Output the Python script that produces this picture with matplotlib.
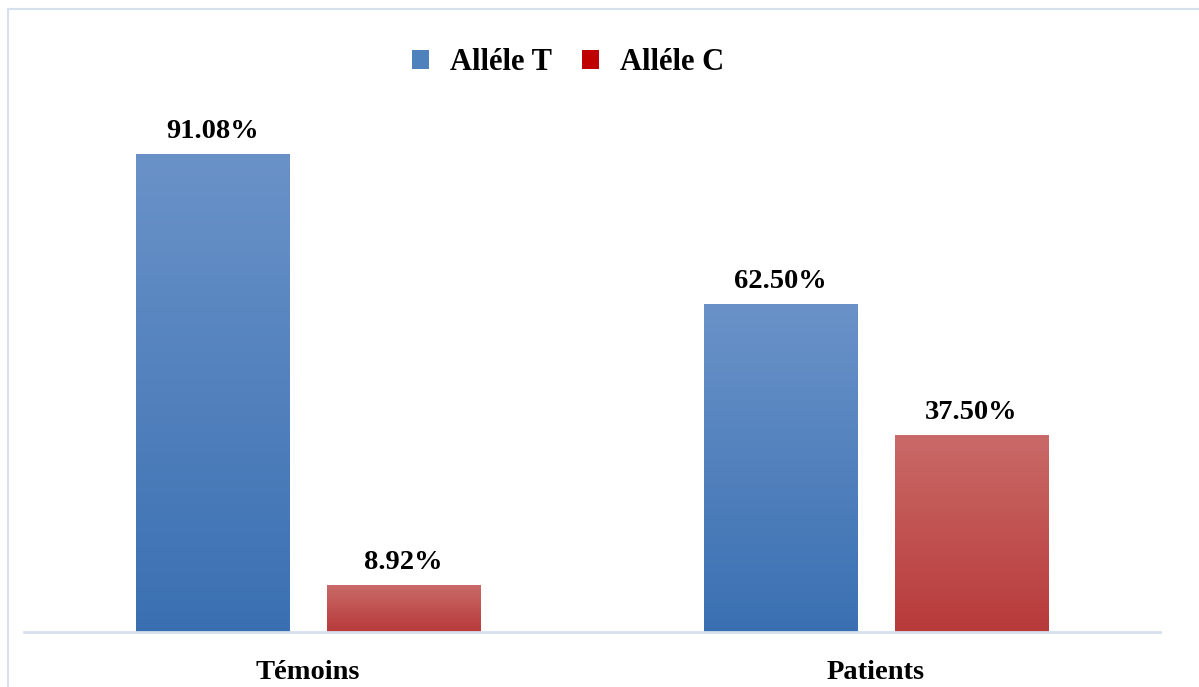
import numpy as np
import matplotlib.pyplot as plt
from matplotlib.patches import Patch, Rectangle
from matplotlib.colors import to_rgb

groups = ["Témoins", "Patients"]
series = ["Alléle T", "Alléle C"]
allele_t = [91.08, 62.50]
allele_c = [8.92, 37.50]

legend_colors = ["#4F81BD", "#C00000"]
# top / bottom shades for the vertical gradient of each series
grad_colors = [("#6A92C8", "#3A70B2"), ("#C96A68", "#B83A3A")]

plt.rcParams["font.family"] = ["Liberation Serif", "DejaVu Serif"]
plt.rcParams["font.weight"] = "bold"

W, H = 1199, 687
fig = plt.figure(figsize=(W / 100, H / 100), dpi=100)
fig.patch.set_facecolor("white")

# outer chart frame (cut by the image edge on the right and bottom)
fig.patches.append(Rectangle((8 / W, -0.02), 1.05, 1 - 9 / H + 0.02,
                             transform=fig.transFigure, fill=False,
                             edgecolor="#D5E0EE", linewidth=1.5))

ax = fig.add_axes([24 / W, (H - 632) / H, 1136 / W, 524.8 / H])

x = np.arange(len(groups))
width = 0.2694
offset = 0.168


def gradient_bar(xc, h, top, bottom):
    bars = ax.bar(xc, h, width, color="none", edgecolor="none")
    for b in bars:
        x0, w, hh = b.get_x(), b.get_width(), b.get_height()
        t, bt = np.array(to_rgb(top)), np.array(to_rgb(bottom))
        f = np.linspace(0, 1, 256)[:, None]
        img = (t * (1 - f) + bt * f)[:, None, :]
        ax.imshow(img, extent=(x0, x0 + w, 0, hh), aspect="auto",
                  interpolation="bicubic", zorder=2)
    return bars


for vals, sign, (top, bot) in zip([allele_t, allele_c], [-1, 1], grad_colors):
    xc = x + sign * offset
    gradient_bar(xc, vals, top, bot)
    for xi, v in zip(xc, vals):
        ax.text(xi, v + 2.0, f"{v:.2f}%", ha="center", va="bottom",
                fontsize=20.5, fontweight="bold", color="black")

ax.set_xlim(-0.5, 1.5)
ax.set_ylim(0, 100)
ax.set_yticks([])
ax.set_xticks(x)
ax.set_xticklabels(groups, fontsize=20.5, fontweight="bold")
ax.tick_params(axis="x", length=0, pad=20)
for s in ["top", "right", "left"]:
    ax.spines[s].set_visible(False)
ax.spines["bottom"].set_color("#D6E1EF")
ax.spines["bottom"].set_linewidth(2)
ax.set_facecolor("none")

handles = [Patch(facecolor=c, edgecolor="none", label=l)
           for c, l in zip(legend_colors, series)]
fig.legend(handles=handles, loc="center", bbox_to_anchor=(568 / W, 1 - 63 / H),
           ncol=2, frameon=False, handlelength=0.55,
           handleheight=0.55, handletextpad=0.68, columnspacing=1.0,
           prop={"weight": "bold", "size": 22})

fig.savefig("out.png", dpi=100)
